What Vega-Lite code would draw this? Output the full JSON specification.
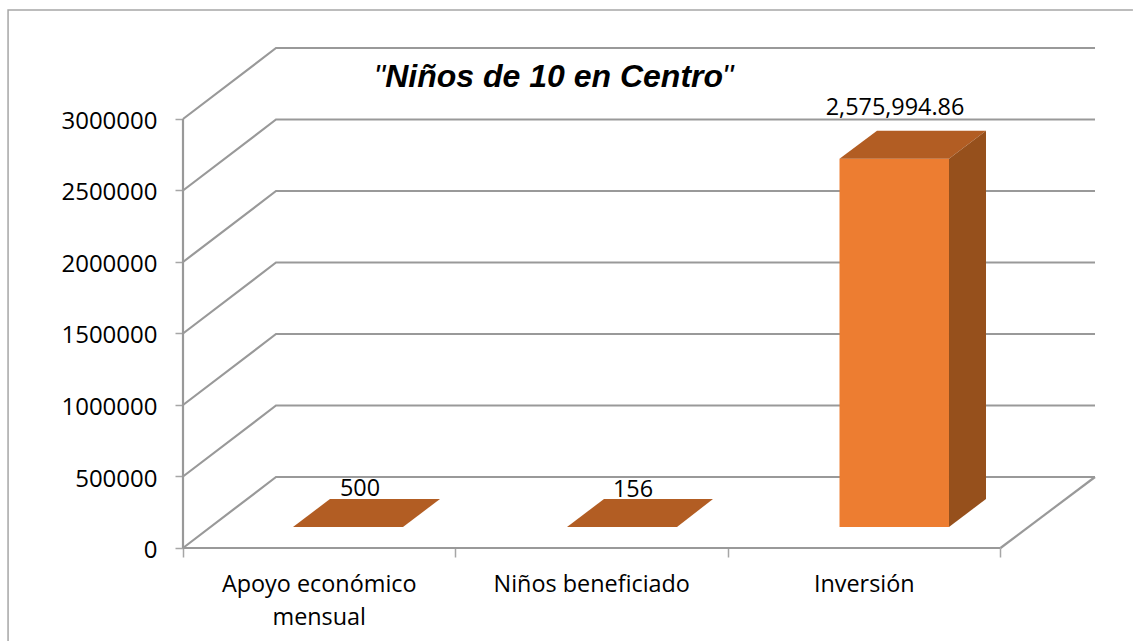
{
"$schema":"https://vega.github.io/schema/vega-lite/v6.json",
"width":912,"height":501,
"autosize":{"type":"none"},
"padding":{"left":183,"top":47,"right":38,"bottom":93},
"background":"white",
"view":{"stroke":null},
"config":{"font":"Open Sans"},
"datasets":{
"frame":[{"x":-0.642,"y":-650349},{"x":-0.642,"y":3762234},{"x":3.486,"y":3762234}],
"grid":[
{"g":"l0","x":0,"y":0},{"g":"l0","x":0.3413,"y":496500},{"g":"l0","x":3.3468,"y":496500},
{"g":"l1","x":0,"y":500000},{"g":"l1","x":0.3413,"y":996500},{"g":"l1","x":3.3468,"y":996500},
{"g":"l2","x":0,"y":1000000},{"g":"l2","x":0.3413,"y":1496500},{"g":"l2","x":3.3468,"y":1496500},
{"g":"l3","x":0,"y":1500000},{"g":"l3","x":0.3413,"y":1996500},{"g":"l3","x":3.3468,"y":1996500},
{"g":"l4","x":0,"y":2000000},{"g":"l4","x":0.3413,"y":2496500},{"g":"l4","x":3.3468,"y":2496500},
{"g":"l5","x":0,"y":2500000},{"g":"l5","x":0.3413,"y":2996500},{"g":"l5","x":3.3468,"y":2996500},
{"g":"l6","x":0,"y":3000000},{"g":"l6","x":0.3413,"y":3496500},{"g":"l6","x":3.3468,"y":3496500},
{"g":"front","x":0,"y":0},{"g":"front","x":3,"y":0},
{"g":"right","x":3,"y":0},{"g":"right","x":3.3468,"y":496500},
{"g":"axis","x":0,"y":0},{"g":"axis","x":0,"y":3000000}
],
"faces":[
{"part":"a-top","face":"top","x":0.4037,"y":146853,"y2":146853},
{"part":"a-top","face":"top","x":0.5394,"y":342657,"y2":146853},
{"part":"a-top","face":"top","x":0.8073,"y":342657,"y2":146853},
{"part":"a-top","face":"top","x":0.9431,"y":342657,"y2":342657},
{"part":"b-top","face":"top","x":1.4092,"y":146853,"y2":146853},
{"part":"b-top","face":"top","x":1.5450,"y":342657,"y2":146853},
{"part":"b-top","face":"top","x":1.8128,"y":342657,"y2":146853},
{"part":"b-top","face":"top","x":1.9450,"y":342657,"y2":342657},
{"part":"c-front","face":"front","x":2.4092,"y":2722848,"y2":146853},
{"part":"c-front","face":"front","x":2.8110,"y":2722848,"y2":146853},
{"part":"c-top","face":"top","x":2.4092,"y":2722848,"y2":2722848},
{"part":"c-top","face":"top","x":2.5468,"y":2918652,"y2":2722848},
{"part":"c-top","face":"top","x":2.8110,"y":2918652,"y2":2722848},
{"part":"c-top","face":"top","x":2.9468,"y":2918652,"y2":2918652},
{"part":"c-side","face":"side","x":2.8110,"y":2722848,"y2":146853},
{"part":"c-side","face":"side","x":2.9468,"y":2918652,"y2":342657}
],
"labels":[
{"t":"Apoyo económico\nmensual","x":0.5,"y":-307700},
{"t":"Niños beneficiado","x":1.5,"y":-307700},
{"t":"Inversión","x":2.5,"y":-307700}
],
"values":[
{"t":"500","x":0.6495,"y":363600},
{"t":"156","x":1.6514,"y":360000},
{"t":"2,575,994.86","x":2.613,"y":3027955}
],
"quotes":[
{"t":"\"","x":0.7,"y":3223700},
{"t":"\"","x":1.978,"y":3223700}
],
"title":[{"t":"Niños de 10 en Centro","x":1.362,"y":3223700}]
},
"encoding":{
"x":{"field":"x","type":"quantitative","scale":{"domain":[0,3.3468],"nice":false,"zero":false},
"axis":{"title":null,"values":[0,1,2,3],"labels":false,"domain":false,"grid":false,"tickSize":9,"tickColor":"#a6a6a6","tickWidth":1.5}},
"y":{"field":"y","type":"quantitative","scale":{"domain":[0,3503496],"nice":false,"zero":false},
"axis":{"title":null,"values":[0,500000,1000000,1500000,2000000,2500000,3000000],"format":"d","domain":false,"grid":false,"tickSize":8,"tickColor":"#a6a6a6","tickWidth":1.5,"labelFontSize":24,"labelColor":"#000000","labelPadding":18,"labelOffset":2.5,"labelFont":"Open Sans"}}
},
"layer":[
{"data":{"name":"frame"},"mark":{"type":"line","color":"#a6a6a6","strokeWidth":1.5,"clip":false},"encoding":{"order":{"value":null}}},
{"data":{"name":"grid"},"mark":{"type":"line","color":"#999999","strokeWidth":2.2},"encoding":{"detail":{"field":"g"}}},
{"data":{"name":"faces"},"mark":{"type":"area","clip":false},"encoding":{
"y2":{"field":"y2"},
"detail":{"field":"part"},
"color":{"field":"face","type":"nominal","legend":null,"scale":{"domain":["front","top","side"],"range":["#ED7D31","#B25D23","#96501C"]}}}},
{"data":{"name":"labels"},"mark":{"type":"text","fontSize":23.4,"font":"Open Sans","color":"#000000","align":"center","baseline":"alphabetic","lineBreak":"\n","lineHeight":33},"encoding":{"text":{"field":"t"}}},
{"data":{"name":"values"},"mark":{"type":"text","fontSize":23.4,"font":"Open Sans","color":"#000000","align":"center","baseline":"alphabetic"},"encoding":{"text":{"field":"t"}}},
{"data":{"name":"quotes"},"mark":{"type":"text","fontSize":32,"font":"Liberation Sans","fontStyle":"italic","color":"#000000","align":"left","baseline":"alphabetic"},"encoding":{"text":{"field":"t"}}},
{"data":{"name":"title"},"mark":{"type":"text","fontSize":32,"font":"Liberation Sans","fontStyle":"italic","fontWeight":"bold","color":"#000000","align":"center","baseline":"alphabetic"},"encoding":{"text":{"field":"t"}}}
]
}
